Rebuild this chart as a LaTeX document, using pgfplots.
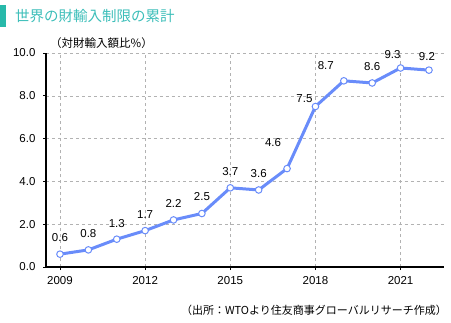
\documentclass[border=0pt]{standalone}
\usepackage{fontspec}
\setmainfont{Liberation Sans}
\newfontfamily\jp{Noto Sans CJK JP}
\usepackage{pgfplots}
\usepackage{pgfplotstable}
\pgfplotsset{compat=1.18}
\definecolor{teal1}{RGB}{40,185,170}
\definecolor{tealtext}{RGB}{60,190,185}
\definecolor{line1}{RGB}{105,140,250}
\pgfplotstableread{
x y dx dy
2009 0.6 0 12
2010 0.8 0 12
2011 1.3 0 11
2012 1.7 0 12
2013 2.2 0 12
2014 2.5 0 12
2015 3.7 0 12
2016 3.6 0 12
2017 4.6 -14 21
2018 7.5 -11 3
2019 8.7 -18 11
2020 8.6 0 12
2021 9.3 -8 9
2022 9.2 -2 9
}\datatable
\begin{document}
\begin{tikzpicture}
\useasboundingbox (0,0) rectangle (451bp,-323bp);
\fill[teal1] (0,-5bp) rectangle (6bp,-27bp);
\node[anchor=west, text=tealtext, font=\jp\fontsize{14.5bp}{16bp}\selectfont, inner sep=0] at (15bp,-16bp) {世界の財輸入制限の累計};
\node[anchor=west, font=\jp\fontsize{11.5bp}{13bp}\selectfont, inner sep=0] at (50bp,-43bp) {（対財輸入額比\%）};
\node[anchor=east, font=\jp\fontsize{11bp}{13bp}\selectfont, inner sep=0] at (447bp,-310bp) {（出所：WTOより住友商事グローバルリサーチ作成）};
\begin{axis}[
  at={(46bp,-267bp)}, anchor=south west,
  scale only axis, width=398bp, height=214bp,
  xmin=2008.507, xmax=2022.53, ymin=0, ymax=10,
  axis lines*=left,
  axis line style={black, line width=1.2bp},
  xtick={2009,2012,2015,2018,2021},
  ytick={0,2,4,6,8,10},
  /pgf/number format/assume math mode=true,
  ticklabel style={font=\fontsize{11.5bp}{13bp}\selectfont},
  xticklabel style={/pgf/number format/set thousands separator={}, yshift=-3bp},
  yticklabel style={/pgf/number format/fixed, /pgf/number format/fixed zerofill, /pgf/number format/precision=1, xshift=-4bp},
  tick align=outside,
  major tick length=3bp,
  tick style={black, line width=0.8bp},
  grid=major,
  major grid style={gray!60, dashed, line width=0.6bp},
  clip=false,
]
\addplot[line1, line width=3bp, mark=*, mark size=3.3bp,
  mark options={fill=white, draw=line1, line width=1bp},
  visualization depends on={\thisrow{dx} \as \dx},
  visualization depends on={\thisrow{dy} \as \dy},
  nodes near coords,
  point meta=explicit,
  nodes near coords style={font=\fontsize{11.5bp}{13bp}\selectfont, text=black, anchor=south, inner sep=0, xshift=\dx bp, yshift=\dy bp,
    /pgf/number format/fixed, /pgf/number format/fixed zerofill, /pgf/number format/precision=1},
] table[x=x, y=y, meta=y] {\datatable};
\end{axis}
\end{tikzpicture}
\end{document}
